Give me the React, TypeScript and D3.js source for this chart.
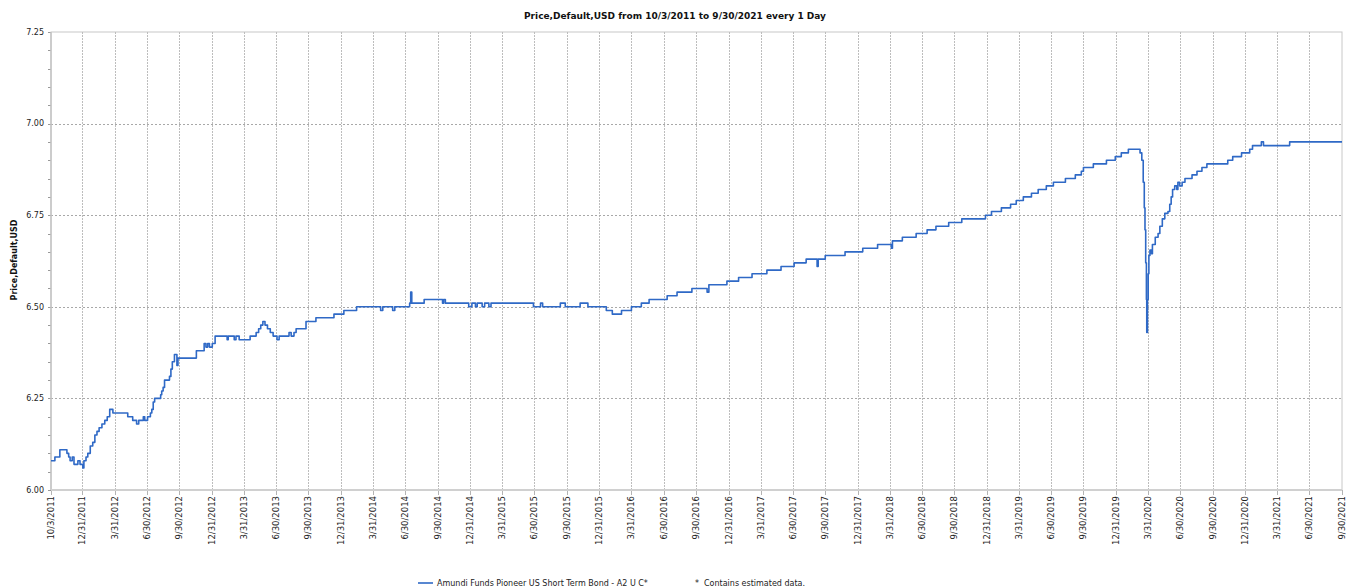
import React, { useEffect, useRef } from 'react'
import * as d3 from 'd3'

// daily price (date, price)
const priceSeries: [string, number][] = [
  ['2011-10-03', 6.08], ['2011-10-14', 6.09], ['2011-10-28', 6.11], ['2011-11-17', 6.1],
  ['2011-11-22', 6.09], ['2011-11-26', 6.08], ['2011-12-02', 6.09], ['2011-12-07', 6.07],
  ['2011-12-18', 6.08], ['2011-12-24', 6.07], ['2012-01-01', 6.06], ['2012-01-04', 6.08],
  ['2012-01-10', 6.09], ['2012-01-15', 6.1], ['2012-01-22', 6.12], ['2012-01-29', 6.13],
  ['2012-02-04', 6.15], ['2012-02-10', 6.16], ['2012-02-16', 6.17], ['2012-02-24', 6.18],
  ['2012-03-03', 6.19], ['2012-03-10', 6.2], ['2012-03-17', 6.22], ['2012-03-26', 6.21],
  ['2012-05-07', 6.2], ['2012-05-21', 6.19], ['2012-06-01', 6.18], ['2012-06-07', 6.19],
  ['2012-06-20', 6.2], ['2012-06-24', 6.19], ['2012-07-02', 6.2], ['2012-07-10', 6.21],
  ['2012-07-14', 6.22], ['2012-07-18', 6.24], ['2012-07-22', 6.25], ['2012-08-08', 6.26],
  ['2012-08-11', 6.27], ['2012-08-15', 6.28], ['2012-08-19', 6.3], ['2012-09-02', 6.31],
  ['2012-09-06', 6.33], ['2012-09-10', 6.35], ['2012-09-16', 6.37], ['2012-09-23', 6.34],
  ['2012-09-26', 6.36], ['2012-11-17', 6.38], ['2012-12-09', 6.4], ['2012-12-14', 6.39],
  ['2012-12-19', 6.4], ['2012-12-24', 6.39], ['2013-01-01', 6.4], ['2013-01-09', 6.42],
  ['2013-02-12', 6.41], ['2013-02-15', 6.42], ['2013-03-04', 6.41], ['2013-03-09', 6.42],
  ['2013-03-18', 6.41], ['2013-04-18', 6.42], ['2013-05-05', 6.43], ['2013-05-12', 6.44],
  ['2013-05-18', 6.45], ['2013-05-24', 6.46], ['2013-05-30', 6.45], ['2013-06-06', 6.44],
  ['2013-06-14', 6.43], ['2013-06-22', 6.42], ['2013-07-03', 6.41], ['2013-07-09', 6.42],
  ['2013-08-06', 6.43], ['2013-08-12', 6.42], ['2013-08-20', 6.43], ['2013-08-26', 6.44],
  ['2013-09-23', 6.46], ['2013-10-21', 6.47], ['2013-12-11', 6.48], ['2014-01-08', 6.49],
  ['2014-02-13', 6.5], ['2014-04-22', 6.49], ['2014-04-28', 6.5], ['2014-05-26', 6.49],
  ['2014-06-01', 6.5], ['2014-07-13', 6.51], ['2014-07-16', 6.54], ['2014-07-19', 6.51],
  ['2014-08-23', 6.52], ['2014-10-14', 6.51], ['2014-10-17', 6.52], ['2014-10-22', 6.51],
  ['2014-12-27', 6.5], ['2015-01-05', 6.51], ['2015-01-15', 6.5], ['2015-01-20', 6.51],
  ['2015-02-03', 6.5], ['2015-02-10', 6.51], ['2015-02-22', 6.5], ['2015-02-28', 6.51],
  ['2015-06-28', 6.5], ['2015-07-18', 6.51], ['2015-07-24', 6.5], ['2015-09-12', 6.51],
  ['2015-09-26', 6.5], ['2015-11-07', 6.51], ['2015-11-29', 6.5], ['2016-01-20', 6.49],
  ['2016-02-06', 6.48], ['2016-03-03', 6.49], ['2016-03-31', 6.5], ['2016-04-28', 6.51],
  ['2016-05-20', 6.52], ['2016-07-10', 6.53], ['2016-08-07', 6.54], ['2016-09-18', 6.55],
  ['2016-10-31', 6.54], ['2016-11-05', 6.56], ['2016-12-26', 6.57], ['2017-01-28', 6.58],
  ['2017-03-07', 6.59], ['2017-04-18', 6.6], ['2017-05-28', 6.61], ['2017-07-04', 6.62],
  ['2017-08-07', 6.63], ['2017-09-07', 6.61], ['2017-09-10', 6.63], ['2017-09-30', 6.64],
  ['2017-11-25', 6.65], ['2018-01-14', 6.66], ['2018-02-25', 6.67], ['2018-04-05', 6.66],
  ['2018-04-08', 6.68], ['2018-05-06', 6.69], ['2018-06-14', 6.7], ['2018-07-15', 6.71],
  ['2018-08-09', 6.72], ['2018-09-14', 6.73], ['2018-10-21', 6.74], ['2018-12-27', 6.75],
  ['2019-01-13', 6.76], ['2019-02-10', 6.77], ['2019-03-08', 6.78], ['2019-03-24', 6.79],
  ['2019-04-13', 6.8], ['2019-05-06', 6.81], ['2019-05-25', 6.82], ['2019-06-17', 6.83],
  ['2019-07-07', 6.84], ['2019-08-10', 6.85], ['2019-09-07', 6.86], ['2019-09-24', 6.87],
  ['2019-09-30', 6.88], ['2019-10-28', 6.89], ['2019-12-04', 6.9], ['2019-12-29', 6.91],
  ['2020-01-15', 6.92], ['2020-02-04', 6.93], ['2020-03-08', 6.92], ['2020-03-13', 6.9],
  ['2020-03-17', 6.84], ['2020-03-20', 6.77], ['2020-03-22', 6.71], ['2020-03-24', 6.62],
  ['2020-03-26', 6.52], ['2020-03-27', 6.43], ['2020-03-29', 6.52], ['2020-03-31', 6.59],
  ['2020-04-02', 6.64], ['2020-04-05', 6.655], ['2020-04-09', 6.645], ['2020-04-12', 6.67],
  ['2020-04-20', 6.69], ['2020-04-28', 6.7], ['2020-05-03', 6.72], ['2020-05-10', 6.74],
  ['2020-05-17', 6.755], ['2020-05-26', 6.76], ['2020-05-31', 6.78], ['2020-06-04', 6.8],
  ['2020-06-08', 6.82], ['2020-06-14', 6.83], ['2020-06-20', 6.82], ['2020-06-23', 6.84],
  ['2020-06-28', 6.83], ['2020-07-05', 6.84], ['2020-07-13', 6.85], ['2020-08-02', 6.86],
  ['2020-08-16', 6.87], ['2020-08-30', 6.88], ['2020-09-13', 6.89], ['2020-11-11', 6.9],
  ['2020-11-25', 6.91], ['2020-12-20', 6.92], ['2021-01-12', 6.93], ['2021-01-20', 6.94],
  ['2021-02-14', 6.95], ['2021-02-20', 6.94], ['2021-05-05', 6.95], ['2021-09-30', 6.95],
]

const yTickValues = [6.0, 6.25, 6.5, 6.75, 7.0, 7.25]

const xTickDates = [
  '2011-10-03', '2011-12-31', '2012-03-31', '2012-06-30', '2012-09-30', '2012-12-31',
  '2013-03-31', '2013-06-30', '2013-09-30', '2013-12-31', '2014-03-31', '2014-06-30',
  '2014-09-30', '2014-12-31', '2015-03-31', '2015-06-30', '2015-09-30', '2015-12-31',
  '2016-03-31', '2016-06-30', '2016-09-30', '2016-12-31', '2017-03-31', '2017-06-30',
  '2017-09-30', '2017-12-31', '2018-03-31', '2018-06-30', '2018-09-30', '2018-12-31',
  '2019-03-31', '2019-06-30', '2019-09-30', '2019-12-31', '2020-03-31', '2020-06-30',
  '2020-09-30', '2020-12-31', '2021-03-31', '2021-06-30', '2021-09-30',
]

const chartTitle = 'Price,Default,USD from 10/3/2011 to 9/30/2021 every 1 Day'
const yAxisTitle = 'Price,Default,USD'
const seriesName = 'Amundi Funds Pioneer US Short Term Bond - A2 U C*'
const footnote = '*  Contains estimated data.'

const WIDTH = 1346
const HEIGHT = 588
const LINE_COLOR = '#2f69c6'

export default function App() {
  const svgRef = useRef<SVGSVGElement>(null)

  useEffect(() => {
    if (!svgRef.current) return
    const svg = d3.select(svgRef.current)
    svg.selectAll('*').remove()

    const margin = { top: 32, right: 4, bottom: 98, left: 51 }
    const innerW = WIDTH - margin.left - margin.right
    const innerH = HEIGHT - margin.top - margin.bottom

    const parse = d3.timeParse('%Y-%m-%d')
    const data = priceSeries.map(([d, v]) => ({ date: parse(d) as Date, value: v }))
    const ticks = xTickDates.map(d => parse(d) as Date)

    const x = d3.scaleTime()
      .domain([ticks[0], ticks[ticks.length - 1]])
      .range([0, innerW])
    const y = d3.scaleLinear()
      .domain([6.0, 7.25])
      .range([innerH, 0])

    const g = svg.append('g').attr('transform', `translate(${margin.left},${margin.top})`)

    // frame
    g.append('rect')
      .attr('x', 0).attr('y', 0)
      .attr('width', innerW).attr('height', innerH)
      .attr('fill', 'none')
      .attr('stroke', '#c8c8c8')
      .attr('stroke-width', 1)

    // vertical grid (dotted) + ticks below axis
    g.selectAll('.vgrid')
      .data(ticks.slice(1, -1))
      .join('line')
      .attr('class', 'vgrid')
      .attr('x1', d => Math.round(x(d)) + 0.5)
      .attr('x2', d => Math.round(x(d)) + 0.5)
      .attr('y1', 0)
      .attr('y2', innerH)
      .attr('stroke', '#bdbdbd')
      .attr('stroke-dasharray', '2,1')

    g.selectAll('.xtick')
      .data(ticks)
      .join('line')
      .attr('class', 'xtick')
      .attr('x1', d => Math.round(x(d)) + 0.5)
      .attr('x2', d => Math.round(x(d)) + 0.5)
      .attr('y1', innerH)
      .attr('y2', innerH + 5)
      .attr('stroke', '#b4b4b4')

    // horizontal grid (dashed)
    g.selectAll('.hgrid')
      .data(yTickValues.slice(1, -1))
      .join('line')
      .attr('class', 'hgrid')
      .attr('x1', 0)
      .attr('x2', innerW)
      .attr('y1', d => Math.round(y(d)) + 0.5)
      .attr('y2', d => Math.round(y(d)) + 0.5)
      .attr('stroke', '#a8a8a8')
      .attr('stroke-dasharray', '2,2')

    // y minor ticks
    g.selectAll('.ytick')
      .data(y.ticks(25))
      .join('line')
      .attr('class', 'ytick')
      .attr('x1', -3)
      .attr('x2', 0)
      .attr('y1', d => Math.round(y(d)) + 0.5)
      .attr('y2', d => Math.round(y(d)) + 0.5)
      .attr('stroke', '#999')

    // axis lines
    g.append('line')
      .attr('x1', 0).attr('x2', 0)
      .attr('y1', 0).attr('y2', innerH)
      .attr('stroke', '#c4c4c4').attr('stroke-width', 1.5)
    g.append('line')
      .attr('x1', 0).attr('x2', innerW)
      .attr('y1', innerH).attr('y2', innerH)
      .attr('stroke', '#d0d0d0').attr('stroke-width', 2)

    // y labels
    g.selectAll('.ylabel')
      .data(yTickValues)
      .join('text')
      .attr('class', 'ylabel')
      .attr('x', -7)
      .attr('y', d => y(d))
      .attr('dy', '0.35em')
      .attr('text-anchor', 'end')
      .style('font-size', '8px')
      .attr('fill', '#222')
      .text(d => d.toFixed(2))

    // x labels, rotated
    const fmt = (d: Date) => `${d.getMonth() + 1}/${d.getDate()}/${d.getFullYear()}`
    g.selectAll('.xlabel')
      .data(ticks)
      .join('text')
      .attr('class', 'xlabel')
      .attr('transform', d => `translate(${x(d)},${innerH + 6}) rotate(-90)`)
      .attr('dy', '0.35em')
      .attr('text-anchor', 'end')
      .style('font-size', '8.5px')
      .attr('fill', '#222')
      .text(d => fmt(d))

    // price line
    const line = d3.line<{ date: Date, value: number }>()
      .x(d => x(d.date))
      .y(d => y(d.value))
      .curve(d3.curveStepAfter)

    g.append('path')
      .datum(data)
      .attr('fill', 'none')
      .attr('stroke', LINE_COLOR)
      .attr('stroke-width', 1.6)
      .attr('stroke-linejoin', 'round')
      .attr('d', line)

    // titles
    svg.append('text')
      .attr('x', 675)
      .attr('y', 19)
      .attr('text-anchor', 'middle')
      .style('font-size', '9px')
      .style('font-weight', 'bold')
      .attr('fill', '#111')
      .text(chartTitle)

    svg.append('text')
      .attr('transform', `translate(17,${margin.top + innerH * 0.5 - 1}) rotate(-90)`)
      .attr('text-anchor', 'middle')
      .style('font-size', '8px')
      .style('font-weight', 'bold')
      .attr('fill', '#111')
      .text(yAxisTitle)

    // legend
    const legend = svg.append('g').attr('transform', 'translate(418,583)')
    legend.append('line')
      .attr('x1', 0).attr('x2', 15)
      .attr('y1', 0).attr('y2', 0)
      .attr('stroke', LINE_COLOR)
      .attr('stroke-width', 1.6)
    legend.append('text')
      .attr('x', 19)
      .attr('dy', '0.35em')
      .style('font-size', '8px')
      .attr('fill', '#222')
      .text(seriesName)
    legend.append('text')
      .attr('x', 387)
      .attr('dy', '0.35em')
      .attr('text-anchor', 'end')
      .style('font-size', '8px')
      .attr('fill', '#222')
      .style('white-space', 'pre')
      .text(footnote)
  }, [])

  return (
    <svg
      ref={svgRef}
      width={WIDTH}
      height={HEIGHT}
      style={{ position: 'absolute', left: 0, top: 0, fontFamily: '"DejaVu Sans", Verdana, sans-serif', background: '#fff' }}
    />
  )
}
